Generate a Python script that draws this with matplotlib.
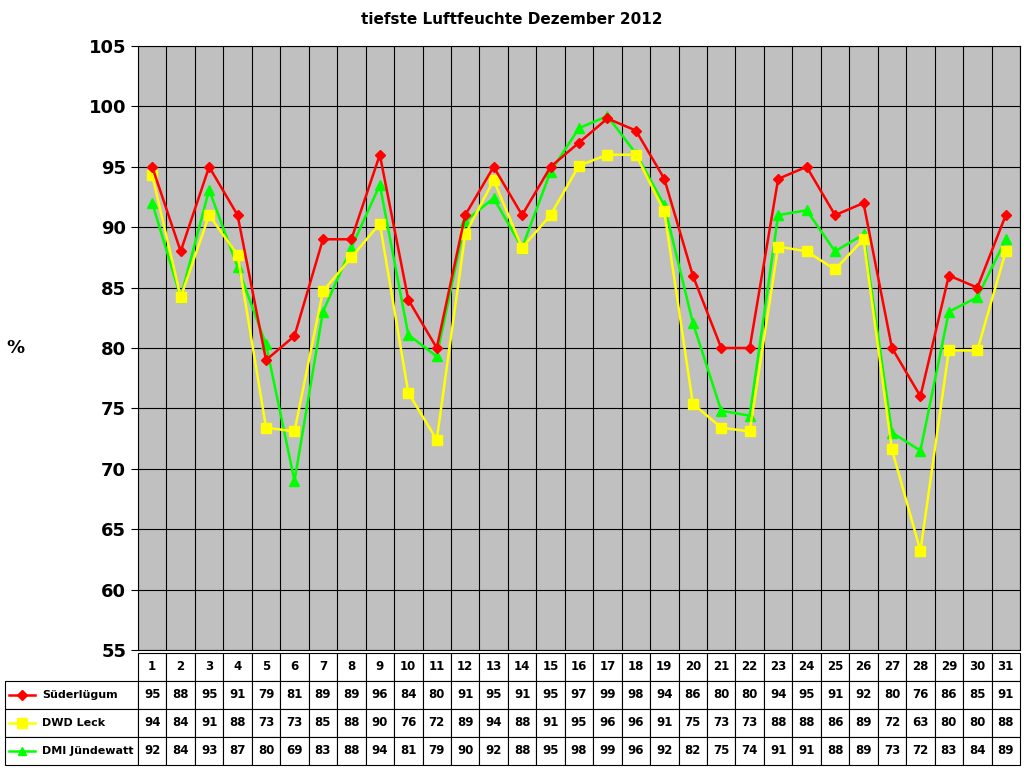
import matplotlib
matplotlib.use('Agg')
import matplotlib.pyplot as plt
from matplotlib.lines import Line2D
import numpy as np

days = list(range(1, 32))
suederluegum = [95, 88, 95, 91, 79, 81, 89, 89, 96, 84, 80, 91, 95, 91, 95, 97, 99, 98, 94, 86,
                80, 80, 94, 95, 91, 92, 80, 76, 86, 85, 91]
dwd_leck = [94.3, 84.2, 91, 87.7, 73.4, 73.1, 84.7, 87.5, 90.3, 76.3, 72.4, 89.4, 93.9, 88.3, 91,
            95.1, 96, 96, 91.3, 75.4, 73.4, 73.1, 88.4, 88, 86.5, 89, 71.6, 63.2, 79.8, 79.8, 88]
dmi = [92, 84.2, 93.1, 86.7, 80.3, 69, 83, 88.3, 93.5, 81.1, 79.3, 90.5, 92.4, 88.3, 94.6, 98.2,
       99.2, 96.1, 91.8, 82.1, 74.8, 74.4, 91, 91.4, 88, 89.4, 73, 71.5, 83, 84.2, 89]
names = ['Süderlügum', 'DWD Leck', 'DMI Jündewatt']
colors = ['#FF0000', '#FFFF00', '#00FF00']
markers = ['D', 's', '^']
msizes = [5.5, 7.5, 6.5]

fig = plt.figure(figsize=(10.24, 7.68), dpi=100)
ax = fig.add_axes([138/1024, 118/768, 882/1024, 604/768])
ax.set_facecolor('#C0C0C0')

series = [suederluegum, dwd_leck, dmi]
# draw order: green, yellow, red on top
for i in [2, 1, 0]:
    ax.plot(days, series[i], color=colors[i], lw=1.8, marker=markers[i], ms=msizes[i],
            mec=colors[i], zorder=3 + (2 - i))

ax.set_xlim(0.5, 31.5)
ax.set_ylim(55, 105)
ax.set_yticks(range(55, 106, 5))
ax.set_xticks([])
ax.set_xticks(np.arange(0.5, 31.6, 1), minor=True)
ax.tick_params(axis='x', which='minor', length=0)
ax.grid(True, axis='y', color='black', lw=0.8)
ax.grid(True, axis='x', which='minor', color='black', lw=0.8)
ax.set_axisbelow(True)
ax.tick_params(axis='y', labelsize=13, length=5)
for t in ax.get_yticklabels():
    t.set_fontweight('bold')
fig.text(15/1024, 1 - 348/768, '%', fontsize=13, fontweight='bold', ha='center', va='center')
fig.text(0.5, 1 - 20/768, 'tiefste Luftfeuchte Dezember 2012', fontsize=11, fontweight='bold',
         ha='center', va='center')

# data table
cell_text = [[''] + [str(d) for d in days]]
for i in range(3):
    cell_text.append([names[i]] + [str(int(round(v))) for v in series[i]])
first_w = 133 / 1015
col_w = [first_w] + [(1 - first_w) / 31] * 31
tbl = ax.table(cellText=cell_text, colWidths=col_w, cellLoc='center',
               bbox=[-133/882, -115/604, 1015/882, 112/604])
tbl.auto_set_font_size(False)
tbl.set_fontsize(8.5)
for (r, c), cell in tbl.get_celld().items():
    cell.set_linewidth(0.8)
    cell.get_text().set_fontweight('bold')
    if r == 0 and c == 0:
        cell.set_visible(False)
    if c == 0 and r > 0:
        cell.get_text().set_fontsize(8)
        cell.get_text().set_ha('left')
        cell._loc = 'left'
        cell.PAD = 0.28

# legend keys in the label cells
row_h = 112 / 4
for i in range(3):
    yc = (118 - 3 - row_h * (i + 1.5)) / 768
    fig.add_artist(Line2D([9/1024, 35/1024], [yc, yc], transform=fig.transFigure,
                          color=colors[i], lw=1.8))
    fig.add_artist(Line2D([22/1024], [yc], transform=fig.transFigure, color=colors[i],
                          marker=markers[i], ms=msizes[i] - 0.5, mec=colors[i], lw=0))

fig.savefig('out.png', dpi=100)
